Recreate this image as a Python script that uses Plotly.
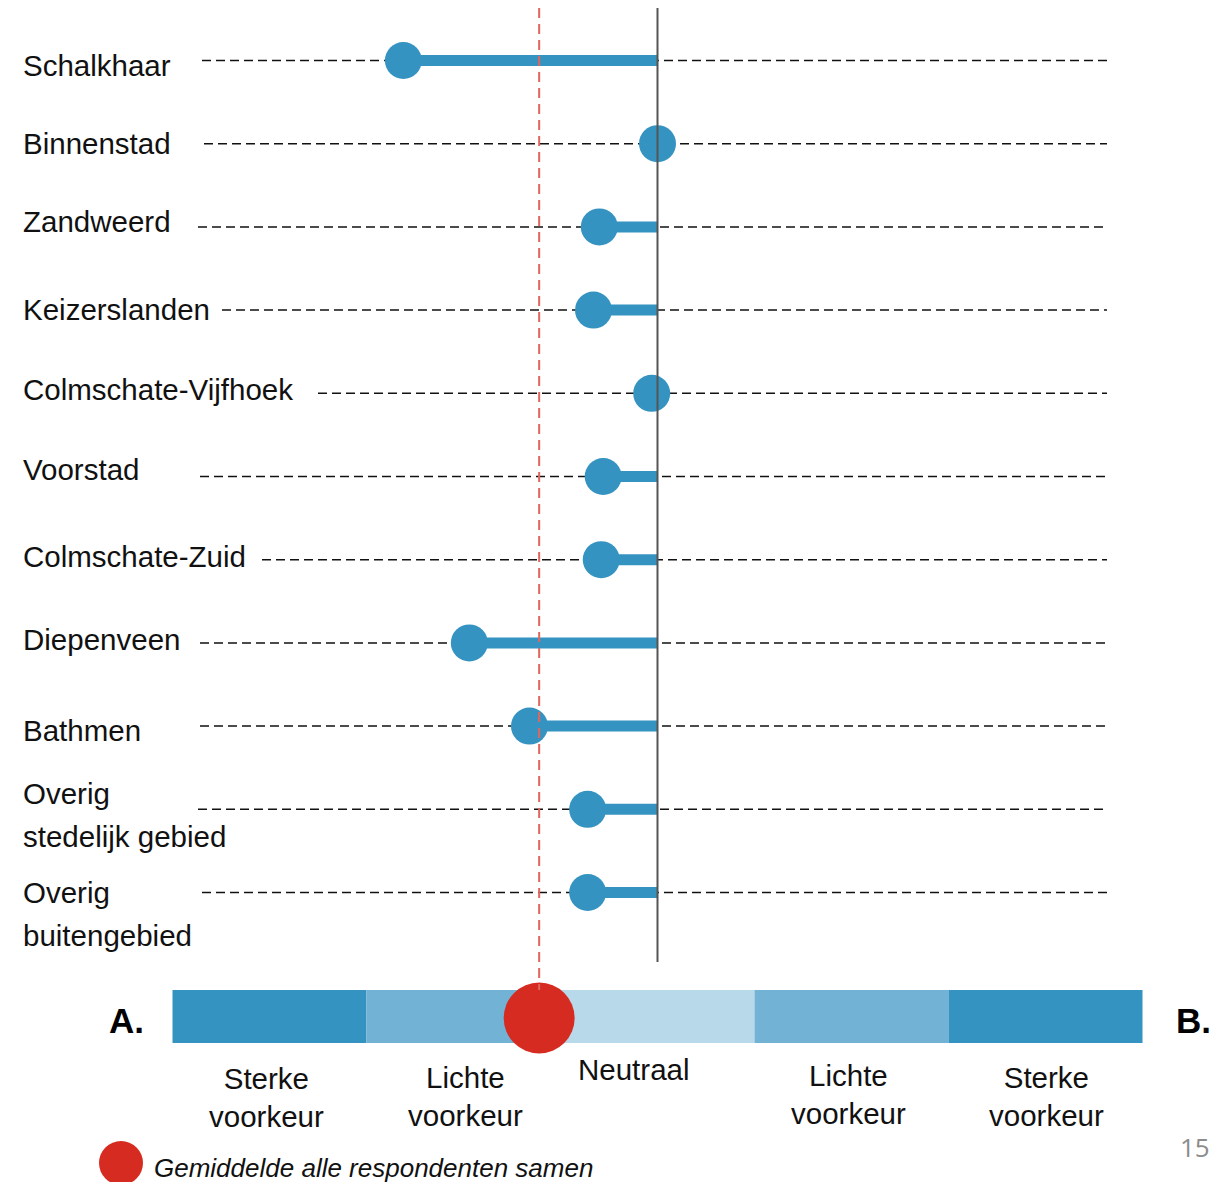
import plotly.graph_objects as go

# wijken en hun gemiddelde voorkeur (-2.5 = sterke voorkeur A, +2.5 = sterke voorkeur B)
WIJKEN = [
    "Schalkhaar",
    "Binnenstad",
    "Zandweerd",
    "Keizerslanden",
    "Colmschate-Vijfhoek",
    "Voorstad",
    "Colmschate-Zuid",
    "Diepenveen",
    "Bathmen",
    "Overig<br>stedelijk gebied",
    "Overig<br>buitengebied",
]
SCORES = [-1.31, 0.0, -0.30, -0.33, -0.03, -0.28, -0.29, -0.97, -0.66, -0.36, -0.36]
GEMIDDELDE = -0.61

SCHAAL_GRENZEN = [-2.5, -1.5, -0.5, 0.5, 1.5, 2.5]
SCHAAL_LABELS = ["Sterke<br>voorkeur", "Lichte<br>voorkeur", "Neutraal", "Lichte<br>voorkeur", "Sterke<br>voorkeur"]

# layout, in page pixels (the figure sits 8px in from the page corner)
PAGE_W, PAGE_H, OFF = 1224, 1182, 8
W, H = PAGE_W - OFF, PAGE_H - OFF
ZERO_PX, UNIT_PX = 657.5, 194.0
ROW0_PX, ROW_STEP = 60.5, 83.2
DASH_START_PX = [202, 204, 198, 222, 318, 200, 262, 200, 200, 198, 202]
DASH_END_PX = 1107
LABEL_DY = [5, 0, -5, -1, -4, -7, -3, -3, 4, 6, 21]

BLUE = "#3593c1"
MID = "#72b2d4"
LIGHT = "#b8d9ea"
RED = "#d62b20"
FONT = "Liberation Sans, Arial, sans-serif"


def ypx(p):
    return (p - ROW0_PX) / ROW_STEP


def paper_x(p):
    return (p - OFF) / W


def paper_y(p):
    return 1 - (p - OFF) / H


rows = list(range(len(WIJKEN)))

fig = go.Figure()

stem_x, stem_y = [], []
for r, s in zip(rows, SCORES):
    stem_x += [s, 0, None]
    stem_y += [r, r, None]

fig.add_trace(go.Scatter(x=stem_x, y=stem_y, mode="lines",
                         line={"color": BLUE, "width": 11}, hoverinfo="skip"))
fig.add_trace(go.Scatter(x=SCORES, y=rows, mode="markers",
                         marker={"color": BLUE, "size": 37}, text=WIJKEN,
                         hovertemplate="%{text}: %{x}<extra></extra>"))

shapes = []
for r, x0 in zip(rows, DASH_START_PX):
    shapes.append({"type": "line", "xref": "paper", "yref": "y",
                   "x0": paper_x(x0), "x1": paper_x(DASH_END_PX), "y0": r, "y1": r,
                   "line": {"color": "#111", "width": 1.5, "dash": "9px,5px"},
                   "layer": "below"})

# neutral line
shapes.append({"type": "line", "xref": "x", "yref": "y", "x0": 0, "x1": 0,
               "y0": ypx(8), "y1": ypx(962),
               "line": {"color": "#555", "width": 2}, "layer": "above"})

# scale bar
seg_colors = [BLUE, MID, LIGHT, MID, BLUE]
for i, c in enumerate(seg_colors):
    shapes.append({"type": "rect", "xref": "x", "yref": "paper",
                   "x0": SCHAAL_GRENZEN[i], "x1": SCHAAL_GRENZEN[i + 1],
                   "y0": paper_y(1043), "y1": paper_y(990),
                   "fillcolor": c, "line": {"width": 0}, "layer": "below"})

# average line
shapes.append({"type": "line", "xref": "x", "yref": "y",
               "x0": GEMIDDELDE, "x1": GEMIDDELDE, "y0": ypx(8), "y1": ypx(990),
               "line": {"color": "#e0675c", "width": 2, "dash": "10px,6px"},
               "layer": "above"})

# legend dot
shapes.append({"type": "circle", "xref": "paper", "yref": "paper",
               "x0": paper_x(99), "x1": paper_x(143),
               "y0": paper_y(1185), "y1": paper_y(1141),
               "fillcolor": RED, "line": {"width": 0}})

fig.add_trace(go.Scatter(x=[GEMIDDELDE], y=[ypx(1018)], mode="markers",
                         marker={"color": RED, "size": 71}, cliponaxis=False,
                         hovertemplate="Gemiddelde: %{x}<extra></extra>"))

annotations = []
for r, name, dy in zip(rows, WIJKEN, LABEL_DY):
    lines = name.split("<br>")
    for k, line in enumerate(lines):
        shift = dy + (k - (len(lines) - 1) / 2) * 43
        annotations.append({"text": line, "xref": "paper", "yref": "y",
                            "x": paper_x(21), "y": r, "yshift": -shift,
                            "xanchor": "left", "yanchor": "middle",
                            "showarrow": False, "align": "left",
                            "font": {"size": 29.5, "color": "#111", "family": FONT}})

label_px = [(266, 1097), (465, 1096), (634, 1069), (848, 1094), (1046, 1096)]
for (lx, ly), lab in zip(label_px, SCHAAL_LABELS):
    annotations.append({"text": lab, "xref": "paper", "yref": "paper",
                        "x": paper_x(lx), "y": paper_y(ly), "xanchor": "center",
                        "yanchor": "middle", "showarrow": False,
                        "font": {"size": 29.5, "color": "#111", "family": FONT}})

annotations += [
    {"text": "<b>A.</b>", "xref": "paper", "yref": "paper", "x": paper_x(126),
     "y": paper_y(1020), "xanchor": "center", "yanchor": "middle",
     "showarrow": False, "font": {"size": 35, "color": "#000", "family": FONT}},
    {"text": "<b>B.</b>", "xref": "paper", "yref": "paper", "x": paper_x(1193),
     "y": paper_y(1020), "xanchor": "center", "yanchor": "middle",
     "showarrow": False, "font": {"size": 35, "color": "#000", "family": FONT}},
    {"text": "<i>Gemiddelde alle respondenten samen</i>", "xref": "paper",
     "yref": "paper", "x": paper_x(152), "y": paper_y(1168), "xanchor": "left",
     "yanchor": "middle", "showarrow": False,
     "font": {"size": 26, "color": "#111", "family": FONT}},
    {"text": "15", "xref": "paper", "yref": "paper", "x": paper_x(1195),
     "y": paper_y(1147), "xanchor": "center", "yanchor": "middle",
     "showarrow": False, "font": {"size": 26, "color": "#8c8c8c", "family": "Open Sans"}},
]

fig.update_layout(
    width=W,
    height=H,
    margin={"l": 0, "r": 0, "t": 0, "b": 0},
    paper_bgcolor="white",
    plot_bgcolor="white",
    showlegend=False,
    shapes=shapes,
    annotations=annotations,
    xaxis={"range": [(OFF - ZERO_PX) / UNIT_PX, (PAGE_W - ZERO_PX) / UNIT_PX],
           "visible": False, "fixedrange": True},
    yaxis={"range": [ypx(PAGE_H), ypx(OFF)], "visible": False, "fixedrange": True},
)

fig.write_html("out.html")
